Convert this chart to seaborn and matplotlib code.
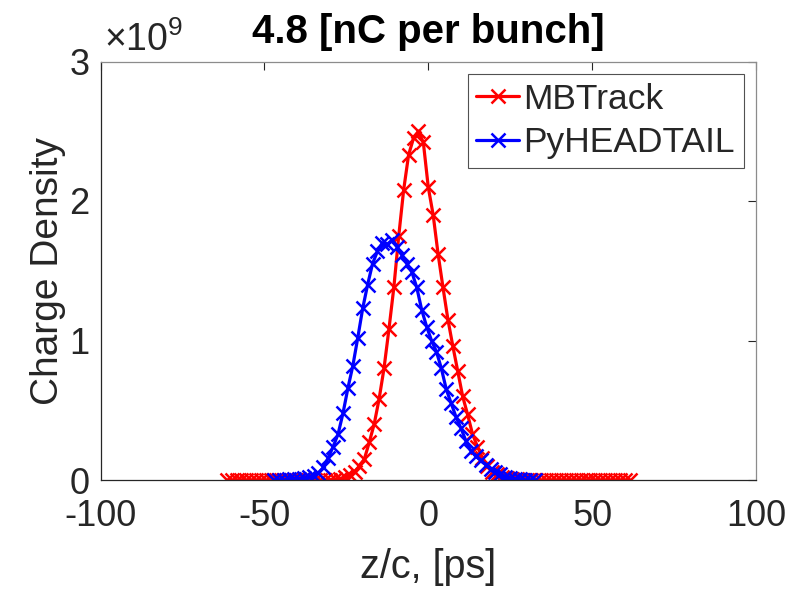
import numpy as np
import pandas as pd
import matplotlib
matplotlib.use("Agg")
import matplotlib.pyplot as plt
import seaborn as sns

# ---- data (charge density in units of 1e9) ----
mb_z = [-61.5, -60.0, -58.5, -57.0, -55.5, -54.0, -52.5, -51.0, -49.5, -48.0,
        -46.5, -45.0, -43.5, -42.0, -40.5, -39.0, -37.5, -36.0, -34.5, -33.0,
        -31.5, -30.0, -28.5, -27.0, -25.5, -24.0, -22.5, -21.0, -19.5, -18.0,
        -16.5, -15.0, -13.5, -12.0, -10.5, -9.0, -7.5, -6.0, -4.5, -3.0,
        -1.5, 0.0, 1.5, 3.0, 4.5, 6.0, 7.5, 9.0, 10.5, 12.0,
        13.5, 15.0, 16.5, 18.0, 19.5, 21.0, 22.5, 24.0, 25.5, 27.0,
        28.5, 30.0, 31.5, 33.0, 34.5, 36.0, 37.5, 39.0, 40.5, 42.0,
        43.5, 45.0, 46.5, 48.0, 49.5, 51.0, 52.5, 54.0, 55.5, 57.0,
        58.5, 60.0, 61.5]
mb_rho = [0.0, 0.0, 0.0, 0.0, 0.0, 0.0, 0.0, 0.0, 0.0, 0.0,
          0.0, 0.0, 0.0, 0.0, 0.0, 0.0, 0.0, 0.0, 0.0, 0.0,
          0.001, 0.002, 0.005, 0.01, 0.02, 0.035, 0.06, 0.10, 0.15, 0.27,
          0.40, 0.58, 0.80, 1.08, 1.38, 1.75, 2.08, 2.33, 2.45, 2.50,
          2.42, 2.10, 1.90, 1.62, 1.38, 1.15, 0.96, 0.78, 0.60, 0.47,
          0.33, 0.24, 0.16, 0.10, 0.06, 0.04, 0.025, 0.015, 0.008, 0.004,
          0.002, 0.001, 0.0, 0.0, 0.0, 0.0, 0.0, 0.0, 0.0, 0.0,
          0.0, 0.0, 0.0, 0.0, 0.0, 0.0, 0.0, 0.0, 0.0, 0.0,
          0.0, 0.0, 0.0]

ph_z = [-47.0, -45.5, -44.0, -42.5, -41.0, -39.5, -38.0, -36.5, -35.0, -33.5,
        -32.0, -30.5, -29.0, -27.5, -26.0, -24.5, -23.0, -21.5, -20.0, -18.5,
        -17.0, -15.5, -14.0, -12.5, -11.0, -9.5, -8.0, -6.5, -5.0, -3.5,
        -2.0, -0.5, 1.0, 2.5, 4.0, 5.5, 7.0, 8.5, 10.0, 11.5,
        13.0, 14.5, 16.0, 17.5, 19.0, 20.5, 22.0, 23.5, 25.0, 26.5,
        28.0, 29.5, 31.0, 32.5]
ph_rho = [0.0, 0.0, 0.0, 0.005, 0.01, 0.01, 0.015, 0.02, 0.03, 0.05,
          0.09, 0.16, 0.24, 0.33, 0.48, 0.66, 0.82, 1.02, 1.23, 1.40,
          1.55, 1.64, 1.70, 1.69, 1.72, 1.67, 1.61, 1.55, 1.49, 1.38,
          1.22, 1.10, 1.00, 0.92, 0.80, 0.65, 0.55, 0.45, 0.37, 0.28,
          0.21, 0.17, 0.14, 0.11, 0.08, 0.06, 0.04, 0.025, 0.015, 0.01,
          0.005, 0.0, 0.0, 0.0]

series_names = ["MBTrack", "PyHEADTAIL"]
series_colors = ["#ff0000", "#0000ff"]
x_ticks = [-100, -50, 0, 50, 100]
y_ticks = [0, 1, 2, 3]
title = "4.8 [nC per bunch]"

series = [
    pd.DataFrame({"z": mb_z, "rho": mb_rho}),
    pd.DataFrame({"z": ph_z, "rho": ph_rho}),
]

sns.set_style("white")
plt.rcParams["font.family"] = ["Liberation Sans", "DejaVu Sans"]
plt.rcParams["mathtext.fontset"] = "custom"
plt.rcParams["mathtext.rm"] = "Liberation Sans"
plt.rcParams["mathtext.it"] = "Liberation Sans:italic"

fig = plt.figure(figsize=(8.02, 5.91), dpi=100)
ax = fig.add_axes([100.5 / 802, 1 - 480 / 591, (756 - 100.5) / 802, (480 - 61.5) / 591])

MS, MEW, LW = 10.5, 1.8, 2.3
for d, name, col in zip(series, series_names, series_colors):
    sns.lineplot(data=d, x="z", y="rho", color=col, marker="x", markersize=MS,
                 markeredgewidth=MEW, markeredgecolor=col, markerfacecolor=col,
                 linewidth=LW, sort=False, estimator=None, ax=ax, label=name,
                 legend=False)

ax.set_xlim(-100, 100)
ax.set_ylim(0, 3)
ax.set_xticks(x_ticks)
ax.set_yticks(y_ticks)
ax.set_xticklabels([str(t) for t in x_ticks])
ax.set_yticklabels([str(t) for t in y_ticks])
ax.tick_params(direction="in", length=6, width=0.8, colors="#262626", labelsize=26,
               top=True, right=True)
ax.tick_params(axis="x", pad=14)
ax.tick_params(axis="y", pad=8)
for s in ax.spines.values():
    s.set_visible(True)
    s.set_color("#262626")
    s.set_linewidth(0.9)
for s in ("top", "right"):
    ax.spines[s].set_color("#8c8c8c")

ax.set_xlabel("z/c, [ps]", fontsize=28.5, color="#262626", labelpad=10)
ax.set_ylabel("Charge Density", fontsize=28, color="#262626", labelpad=2)
ax.set_title(title, fontsize=29, fontweight="bold", color="black", pad=13)
ax.text(0.005, 1.005, r"$\times10^{9}$", transform=ax.transAxes, fontsize=27,
        color="#262626", ha="left", va="bottom")

from matplotlib.lines import Line2D
handles = [Line2D([], [], color=c, marker="x", markersize=MS, markeredgewidth=MEW, linewidth=LW)
           for c in series_colors]
leg = ax.legend(handles, series_names, loc="upper right", fontsize=25.5, frameon=True,
                fancybox=False, edgecolor="#262626", handlelength=1.2, handletextpad=0.12,
                borderpad=0.25, labelspacing=0.3, borderaxespad=0.35)
leg.get_frame().set_linewidth(0.8)

fig.savefig("out.png", dpi=100)
